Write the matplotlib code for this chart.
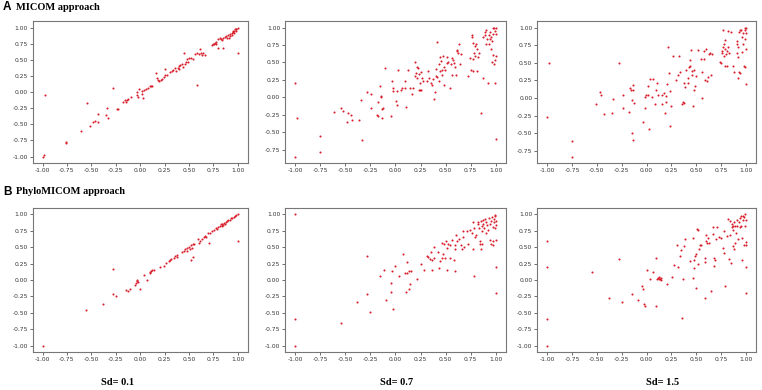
import matplotlib
matplotlib.use("Agg")
import matplotlib.pyplot as plt

# panel A, Sd = 0.1
micom_x_01 = [-1.0, -0.99, -0.97, -0.76, -0.76, -0.61, -0.54, -0.51, -0.48, -0.46, -0.43, -0.43,
              -0.35, -0.34, -0.33, -0.28, -0.24, -0.23, -0.18, -0.16, -0.15, -0.14, -0.13, -0.09,
              -0.03, -0.03, -0.02, -0.01, 0.02, 0.02, 0.03, 0.04, 0.06, 0.08, 0.10, 0.11, 0.12,
              0.164, 0.171, 0.18, 0.19, 0.21, 0.22, 0.24, 0.25, 0.25, 0.27, 0.30, 0.33, 0.34, 0.36,
              0.37, 0.39, 0.40, 0.40, 0.41, 0.43, 0.44, 0.45, 0.46, 0.47, 0.48, 0.49, 0.50, 0.52,
              0.54, 0.56, 0.58, 0.585, 0.60, 0.615, 0.625, 0.635, 0.645, 0.66, 0.73, 0.745, 0.755,
              0.77, 0.775, 0.78, 0.795, 0.80, 0.82, 0.83, 0.835, 0.85, 0.85, 0.87, 0.88, 0.89, 0.90,
              0.91, 0.92, 0.92, 0.935, 0.94, 0.945, 0.955, 0.96, 0.965, 0.975, 0.98, 0.985, 0.985,
              1.0, 1.0]
micom_y_01 = [-1.0, -0.98, -0.04, -0.79, -0.77, -0.60, -0.17, -0.53, -0.46, -0.45, -0.47, -0.34,
              -0.36, -0.25, -0.40, 0.06, -0.26, -0.27, -0.16, -0.13, -0.15, -0.12, -0.11, -0.07,
              0.0, -0.04, -0.08, 0.04, 0.01, -0.03, -0.10, 0.03, 0.05, 0.07, 0.10, 0.10, 0.10,
              0.30, 0.21, 0.18, 0.17, 0.19, 0.20, 0.23, 0.26, 0.35, 0.27, 0.31, 0.32, 0.34, 0.37,
              0.32, 0.38, 0.40, 0.36, 0.42, 0.43, 0.39, 0.60, 0.44, 0.47, 0.51, 0.46, 0.52, 0.53,
              0.51, 0.59, 0.11, 0.60, 0.59, 0.67, 0.61, 0.57, 0.61, 0.57, 0.73, 0.74, 0.75,
              0.76, 0.74, 0.78, 0.68, 0.82, 0.83, 0.82, 0.80, 0.69, 0.84, 0.85, 0.87, 0.84, 0.88,
              0.84, 0.90, 0.87, 0.91, 0.89, 0.93, 0.94, 0.92, 0.95, 0.97, 0.94, 0.98, 0.975,
              1.0, 0.60]

# panel A, Sd = 0.7
micom_x_07 = [-1.0, -1.0, -0.98, -0.755, -0.755, -0.61, -0.54, -0.52, -0.47, -0.48, -0.44, -0.43,
              -0.36, -0.34, -0.33, -0.28, -0.24, -0.24, -0.18, -0.17, -0.17, -0.155, -0.145, -0.14,
              -0.13, -0.13, -0.12, -0.105, -0.04, -0.03, -0.02, -0.02, 0.01, 0.02, 0.02, 0.03,
              0.055, 0.06, 0.09, 0.095, 0.10, 0.12, 0.145, 0.16, 0.17, 0.19, 0.195, 0.20, 0.21,
              0.21, 0.22, 0.23, 0.23, 0.24, 0.245, 0.25, 0.25, 0.26, 0.27, 0.31, 0.32, 0.33, 0.355,
              0.36, 0.375, 0.38, 0.39, 0.40, 0.40, 0.41, 0.415, 0.43, 0.435, 0.44, 0.445, 0.45,
              0.46, 0.465, 0.475, 0.48, 0.485, 0.49, 0.51, 0.515, 0.525, 0.54, 0.555, 0.56, 0.565,
              0.575, 0.585, 0.59, 0.60, 0.61, 0.615, 0.625, 0.63, 0.64, 0.655, 0.72, 0.74, 0.75,
              0.76, 0.765, 0.77, 0.77, 0.775, 0.78, 0.79, 0.795, 0.80, 0.81, 0.81, 0.825, 0.835,
              0.855, 0.87, 0.875, 0.89, 0.895, 0.90, 0.905, 0.91, 0.925, 0.93, 0.935, 0.94, 0.945,
              0.95, 0.955, 0.96, 0.965, 0.97, 0.97, 0.975, 0.98, 0.985, 0.99, 0.99, 0.995, 1.0,
              1.0, 1.0, 1.0]
micom_y_07 = [0.205, -0.85, -0.29, -0.55, -0.79, -0.21, -0.15, -0.19, -0.22, -0.35, -0.26, -0.32,
              -0.32, -0.04, -0.61, 0.07, -0.15, 0.04, -0.26, -0.27, -0.07, 0.16, 0.0, 0.02,
              -0.17, -0.29, -0.15, 0.42, -0.27, 0.24, 0.14, 0.09, -0.05, 0.09, -0.11, 0.39,
              0.11, 0.14, 0.24, 0.13, -0.14, 0.39, 0.13, 0.05, 0.13, 0.30, 0.51, 0.35, 0.44,
              0.28, 0.42, 0.34, 0.11, 0.10, 0.20, 0.11, 0.36, 0.28, 0.24, 0.24, 0.38, 0.28, 0.21,
              0.18, 0.26, -0.03, 0.07, 0.40, 0.30, 0.79, 0.29, 0.47, 0.23, 0.37, 0.58, 0.52,
              0.32, 0.39, 0.59, 0.17, 0.44, 0.39, 0.58, 0.49, 0.51, 0.13, 0.47, 0.32, 0.56,
              0.54, 0.49, 0.44, 0.32, 0.68, 0.67, 0.64, 0.77, 0.47, 0.62, 0.30, 0.56, 0.39,
              0.89, 0.86, 0.55, 0.38, 0.78, 0.64, 0.73, 0.59, 0.77, 0.38, 0.69, 0.58, 0.64,
              -0.23, 0.86, 0.27, 0.94, 0.89, 0.76, 0.97, 0.83, 0.20, 0.89, 0.77, 0.84, 0.94,
              0.87, 0.69, 0.81, 0.51, 0.99, 0.61, 0.91, 1.0, 0.48, 0.95, 0.54, 0.21, 1.0,
              -0.60, 0.91, 0.59]

# panel A, Sd = 1.5
micom_x_15 = [-1.0, -0.98, -0.75, -0.75, -0.51, -0.47, -0.46, -0.43, -0.35, -0.335, -0.28, -0.24,
              -0.24, -0.18, -0.17, -0.16, -0.15, -0.145, -0.14, -0.135, -0.13, -0.14, -0.035, -0.02,
              -0.015, -0.01, 0.01, 0.015, 0.025, 0.03, 0.05, 0.06, 0.085, 0.10, 0.11, 0.12, 0.16,
              0.16, 0.18, 0.19, 0.195, 0.20, 0.21, 0.215, 0.23, 0.235, 0.24, 0.25, 0.27, 0.30, 0.32,
              0.33, 0.34, 0.355, 0.37, 0.375, 0.38, 0.39, 0.40, 0.415, 0.42, 0.43, 0.435, 0.44,
              0.445, 0.455, 0.46, 0.47, 0.475, 0.48, 0.49, 0.495, 0.52, 0.55, 0.555, 0.56, 0.575,
              0.58, 0.585, 0.60, 0.605, 0.62, 0.625, 0.635, 0.645, 0.66, 0.74, 0.745, 0.755, 0.76,
              0.77, 0.77, 0.775, 0.78, 0.785, 0.79, 0.79, 0.80, 0.805, 0.81, 0.815, 0.82, 0.825,
              0.85, 0.87, 0.875, 0.905, 0.91, 0.91, 0.915, 0.915, 0.92, 0.925, 0.93, 0.935, 0.94,
              0.95, 0.96, 0.965, 0.975, 0.975, 0.985, 0.99, 0.99, 0.995, 0.995, 1.0, 1.0, 1.0, 1.0]
micom_y_15 = [-0.27, 0.50, -0.61, -0.83, -0.09, 0.08, 0.05, -0.22, -0.21, -0.01, 0.50, 0.04,
              -0.14, -0.20, 0.14, 0.12, -0.50, -0.03, 0.19, 0.11, -0.07, -0.59, -0.34, -0.14,
              0.02, 0.05, 0.17, 0.05, -0.44, 0.27, 0.01, 0.27, -0.08, 0.12, 0.22, 0.05, 0.05,
              -0.08, 0.07, -0.21, -0.06, 0.03, 0.20, 0.73, 0.36, 0.10, -0.39, -0.11, 0.59, 0.26, 0.33,
              0.59, 0.37, -0.08, -0.06, 0.21, -0.07, 0.15, 0.40, 0.22, 0.28, 0.44, 0.46, 0.54,
              0.68, 0.33, 0.39, -0.12, 0.40, 0.12, 0.17, 0.31, 0.68, 0.56, 0.005, 0.37, 0.56,
              0.67, 0.26, 0.69, 0.24, 0.30, 0.62, 0.64, 0.33, 0.62, 0.51, 0.50, 0.64, 0.66,
              0.96, 0.72, 0.60, 0.76, 0.45, 0.69, 0.82, 0.63, 0.45, 0.67, 0.95, 0.72, 0.64,
              0.94, 0.46, 0.37, 0.81, 0.77, 0.64, 0.29, 0.73, 0.58, 0.94, 0.37, 0.36, 0.96,
              0.97, 0.65, 0.86, 0.77, 0.92, 0.45, 0.44, 0.84, 1.0, 0.96, 0.70, 1.0, 0.20, 0.92]

# panel B, Sd = 0.1
phylo_x_01 = [-1.0, -0.55, -0.38, -0.28, -0.28, -0.25, -0.15, -0.12, -0.10, -0.05, -0.04, -0.03,
              -0.03, -0.02, -0.005, 0.035, 0.07, 0.10, 0.10, 0.11, 0.12, 0.14, 0.20, 0.24, 0.26,
              0.29, 0.31, 0.32, 0.345, 0.355, 0.375, 0.38, 0.43, 0.45, 0.46, 0.48, 0.48, 0.50,
              0.51, 0.52, 0.53, 0.54, 0.55, 0.54, 0.52, 0.59, 0.60, 0.61, 0.63, 0.65, 0.66, 0.67,
              0.69, 0.70, 0.71, 0.74, 0.76, 0.78, 0.79, 0.80, 0.82, 0.83, 0.84, 0.84, 0.85, 0.86,
              0.87, 0.88, 0.89, 0.90, 0.92, 0.93, 0.94, 0.96, 0.97, 0.98, 1.0, 1.0]
phylo_y_01 = [-1.0, -0.45, -0.37, 0.17, -0.22, -0.25, -0.15, -0.17, -0.14, -0.08, -0.04, 0.0,
              -0.02, -0.03, -0.14, 0.07, 0.005, 0.10, 0.12, 0.13, 0.15, 0.15, 0.20, 0.22, 0.26,
              0.29, 0.31, 0.32, 0.33, 0.36, 0.38, 0.35, 0.43, 0.44, 0.47, 0.49, 0.45, 0.51,
              0.48, 0.53, 0.49, 0.55, 0.55, 0.35, 0.31, 0.62, 0.57, 0.60, 0.63, 0.66, 0.67, 0.65,
              0.71, 0.57, 0.72, 0.75, 0.77, 0.79, 0.78, 0.81, 0.82, 0.85, 0.83, 0.86, 0.84, 0.87,
              0.85, 0.88, 0.90, 0.91, 0.92, 0.94, 0.95, 0.96, 0.98, 0.99, 1.0, 0.60]

# panel B, Sd = 0.7
phylo_x_07 = [-1.0, -1.0, -1.0, -0.54, -0.38, -0.28, -0.28, -0.25, -0.15, -0.11, -0.09, -0.045,
              -0.04, -0.035, -0.02, 0.0, 0.035, 0.07, 0.095, 0.10, 0.11, 0.115, 0.13, 0.135, 0.145,
              0.155, 0.21, 0.25, 0.28, 0.31, 0.325, 0.34, 0.35, 0.36, 0.365, 0.38, 0.385, 0.42,
              0.435, 0.44, 0.46, 0.465, 0.475, 0.48, 0.49, 0.50, 0.51, 0.515, 0.525, 0.54, 0.545,
              0.56, 0.585, 0.59, 0.595, 0.595, 0.60, 0.61, 0.63, 0.65, 0.665, 0.67, 0.675, 0.685,
              0.71, 0.72, 0.74, 0.765, 0.775, 0.775, 0.78, 0.785, 0.79, 0.80, 0.82, 0.825, 0.83,
              0.84, 0.84, 0.85, 0.85, 0.86, 0.86, 0.865, 0.87, 0.875, 0.885, 0.89, 0.90, 0.905,
              0.915, 0.925, 0.93, 0.94, 0.94, 0.95, 0.955, 0.96, 0.97, 0.97, 0.975, 0.98, 0.985,
              0.99, 0.99, 0.995, 1.0, 1.0, 1.0, 1.0, 1.0]
phylo_y_07 = [1.0, -0.60, -1.0, -0.65, -0.33, 0.36, -0.22, -0.48, 0.06, 0.16, -0.31, -0.19,
              -0.04, 0.13, -0.44, 0.21, 0.06, 0.39, 0.10, -0.18, 0.11, 0.27, 0.14, -0.14, -0.06,
              0.14, 0.02, 0.24, 0.16, 0.37, 0.35, 0.32, 0.43, 0.30, 0.15, 0.51, 0.34, 0.42,
              0.18, 0.29, 0.33, 0.57, 0.40, 0.55, 0.34, 0.60, 0.49, 0.16, 0.55, 0.54, 0.33,
              0.61, 0.30, 0.54, 0.48, 0.14, 0.68, 0.60, 0.62, 0.54, 0.48, 0.75, 0.65, 0.50,
              0.74, 0.55, 0.76, 0.71, 0.88, 0.47, 0.06, 0.80, 0.66, 0.69, 0.85, 0.88, 0.80,
              0.60, 0.55, 0.90, 0.48, 0.83, 0.75, 0.55, 0.91, 0.86, 0.80, 0.93, 0.71, 0.89,
              0.84, 0.76, 0.94, 0.61, 0.86, 0.90, 0.55, 0.96, 0.81, 0.59, 0.53, 0.93, 0.88,
              0.98, 0.79, 0.995, 0.90, 0.84, 0.61, 0.20, -0.20]

# panel B, Sd = 1.5
phylo_x_15 = [-1.0, -1.0, -1.0, -1.0, -0.55, -0.38, -0.28, -0.245, -0.145, -0.085, -0.045, -0.04,
              -0.03, -0.02, 0.0, 0.035, 0.065, 0.095, 0.10, 0.105, 0.12, 0.13, 0.13, 0.14, 0.145,
              0.15, 0.205, 0.255, 0.28, 0.31, 0.32, 0.34, 0.35, 0.36, 0.365, 0.375, 0.385, 0.435,
              0.465, 0.47, 0.475, 0.48, 0.485, 0.495, 0.50, 0.51, 0.52, 0.52, 0.53, 0.535, 0.55,
              0.585, 0.59, 0.59, 0.595, 0.60, 0.61, 0.615, 0.63, 0.65, 0.665, 0.67, 0.675, 0.68,
              0.685, 0.70, 0.71, 0.725, 0.75, 0.77, 0.78, 0.78, 0.785, 0.81, 0.82, 0.83, 0.835,
              0.84, 0.85, 0.855, 0.86, 0.865, 0.87, 0.87, 0.875, 0.88, 0.885, 0.89, 0.895, 0.905,
              0.91, 0.92, 0.925, 0.935, 0.94, 0.95, 0.955, 0.96, 0.965, 0.97, 0.975, 0.98, 0.985,
              0.99, 0.995, 1.0, 1.0, 1.0, 1.0, 1.0]
phylo_y_15 = [0.60, 0.20, -0.60, -1.0, 0.12, -0.28, 0.32, -0.34, -0.21, -0.31, -0.09, -0.13,
              -0.36, -0.40, 0.16, 0.02, 0.12, 0.34, -0.40, 0.01, 0.03, 0.01, 0.04, 0.02, 0.0,
              0.03, -0.06, 0.04, 0.23, 0.53, 0.20, 0.36, 0.46, -0.58, 0.01, 0.52, 0.62, 0.29,
              0.03, 0.64, 0.31, 0.19, 0.37, 0.39, -0.12, 0.78, 0.24, 0.76, 0.47, 0.54, 0.53,
              0.34, 0.27, -0.27, 0.68, 0.59, 0.57, 0.64, 0.57, -0.17, 0.81, 0.70, 0.34, 0.21,
              0.31, 0.63, 0.81, 0.66, 0.64, 0.49, 0.75, 0.41, -0.09, 0.67, 0.93, 0.32, 0.90,
              0.68, 0.26, 0.85, 0.81, 0.52, 0.83, 0.77, 0.47, 0.88, 0.57, 0.82, 0.71, 0.91,
              0.83, 0.62, 0.88, 0.81, 0.95, 0.97, 0.82, 0.31, 0.64, 0.92, 0.98, 0.53, 0.96,
              0.83, 1.0, 0.58, 0.20, -0.20, 0.92, 0.53]

sd_labels = ["Sd= 0.1", "Sd= 0.7", "Sd= 1.5"]

panels = [
    [(micom_x_01, micom_y_01), (micom_x_07, micom_y_07), (micom_x_15, micom_y_15)],
    [(phylo_x_01, phylo_y_01), (phylo_x_07, phylo_y_07), (phylo_x_15, phylo_y_15)],
]

fig = plt.figure(figsize=(7.62, 3.9), dpi=100)

lefts = [0.043, 0.374, 0.705]
widths = [0.282, 0.290, 0.287]
bottoms = [0.582, 0.097]
heights = [0.364, 0.370]

for r, row in enumerate(panels):
    for c, (xs, ys) in enumerate(row):
        ax = fig.add_axes([lefts[c], bottoms[r], widths[c], heights[r]])
        ax.scatter(xs, ys, s=2.2, color="#d81e2a", linewidths=0)
        ax.set_xticks([-1.0, -0.75, -0.5, -0.25, 0.0, 0.25, 0.5, 0.75, 1.0])
        ax.tick_params(labelsize=4.3, length=2, width=0.5, pad=1.5, colors="#333333")
        for sp in ax.spines.values():
            sp.set_color("#777777")
            sp.set_linewidth(0.8)
        ax.xaxis.set_major_formatter(plt.FormatStrFormatter("%.2f"))
        ax.yaxis.set_major_formatter(plt.FormatStrFormatter("%.2f"))

# panel headings
fig.text(0.004, 0.982, "A", fontsize=8.5, fontweight="bold", family="Liberation Sans", va="center")
fig.text(0.021, 0.982, "MICOM approach", fontsize=7.5, fontweight="bold",
         family="Liberation Serif", va="center")
fig.text(0.004, 0.508, "B", fontsize=8.5, fontweight="bold", family="Liberation Sans", va="center")
fig.text(0.021, 0.508, "PhyloMICOM approach", fontsize=7.5, fontweight="bold",
         family="Liberation Serif", va="center")

for xpos, lab in zip([0.154, 0.521, 0.870], sd_labels):
    fig.text(xpos, 0.018, lab, fontsize=7.5, fontweight="bold", family="Liberation Serif",
             ha="center", va="center")

fig.savefig("out.png", dpi=100)
